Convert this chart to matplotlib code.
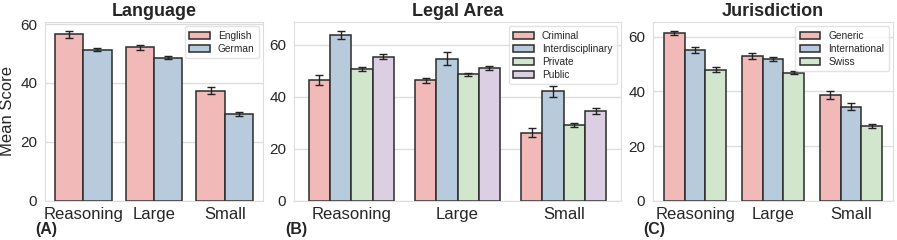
import numpy as np
import matplotlib
matplotlib.use("Agg")
import matplotlib.pyplot as plt
import seaborn as sns

sns.set_style("whitegrid")
plt.rcParams['font.family'] = ['Liberation Sans', 'DejaVu Sans']

models = ["Reasoning", "Large", "Small"]

# Panel A: language
lang_names = ["English", "German"]
lang_means = [[56.6, 52.1, 37.4], [51.3, 48.5, 29.5]]
lang_errs = [[1.2, 0.9, 1.2], [0.6, 0.5, 0.7]]

# Panel B: legal area
area_names = ["Criminal", "Interdisciplinary", "Private", "Public"]
area_means = [[46.3, 46.2, 26.2], [63.7, 54.6, 42.1], [50.6, 48.6, 29.1], [55.3, 51.0, 34.6]]
area_errs = [[1.9, 1.1, 1.7], [1.7, 2.4, 2.1], [0.8, 0.6, 0.8], [1.0, 0.6, 1.1]]

# Panel C: jurisdiction
jur_names = ["Generic", "International", "Swiss"]
jur_means = [[61.4, 52.9, 38.7], [55.2, 51.9, 34.4], [47.9, 46.8, 27.4]]
jur_errs = [[0.9, 1.2, 1.6], [1.2, 0.7, 1.3], [0.9, 0.6, 0.8]]

colors = ["#f1bab8", "#b8cbdd", "#d1e6cd", "#dccfe3"]

fig = plt.figure(figsize=(8.97, 2.4), dpi=100)
W, H = 897.0, 240.0
bottom = 1 - 200.7 / H
height = (200.7 - 22) / H
ax_a = fig.add_axes([45 / W, bottom, 218 / W, height])
ax_b = fig.add_axes([294 / W, bottom, 327 / W, height])
ax_c = fig.add_axes([653 / W, bottom, 240 / W, height])


def draw(ax, names, means, errs, title, tag, tag_x):
    n = len(names)
    w = 0.8 / n
    x = np.arange(len(models))
    for i, name in enumerate(names):
        pos = x - 0.4 + w * (i + 0.5)
        ax.bar(pos, means[i], width=w, color=colors[i], edgecolor="#2b2b2b",
               linewidth=1.1, label=name, zorder=2)
        ax.errorbar(pos, means[i], yerr=errs[i], fmt="none", ecolor="#222222",
                    elinewidth=1.0, capsize=3, capthick=1.0, zorder=3)
    ax.set_xticks(x)
    ax.set_xticklabels(models, fontsize=12)
    ax.tick_params(axis="x", pad=1)
    ax.tick_params(axis="y", labelsize=11, pad=2)
    ax.set_title(title, fontsize=13, fontweight="bold", pad=4)
    ax.grid(axis="x", visible=False)
    ax.grid(axis="y", color="#dddddd", linewidth=1.0)
    ax.set_axisbelow(True)
    for s in ax.spines.values():
        s.set_color("#dddddd")
    leg = ax.legend(loc="upper right", fontsize=7.3, frameon=True,
                    handlelength=2.0, borderpad=0.45, labelspacing=0.3,
                    borderaxespad=0.4)
    leg.get_frame().set_edgecolor("#dddddd")
    ax.text(tag_x, -0.16, tag, transform=ax.transAxes, fontsize=11.5,
            fontweight="bold", ha="left", va="center")


draw(ax_a, lang_names, lang_means, lang_errs, "Language", "(A)", -0.046)
draw(ax_b, area_names, area_means, area_errs, "Legal Area", "(B)", -0.028)
draw(ax_c, jur_names, jur_means, jur_errs, "Jurisdiction", "(C)", -0.042)

ax_a.set_ylabel("Mean Score", fontsize=12, labelpad=4)
ax_a.set_yticks([0, 20, 40, 60])
ax_b.set_yticks([0, 20, 40, 60])
ax_c.set_yticks([0, 20, 40, 60])

fig.savefig("out.png", dpi=100)
